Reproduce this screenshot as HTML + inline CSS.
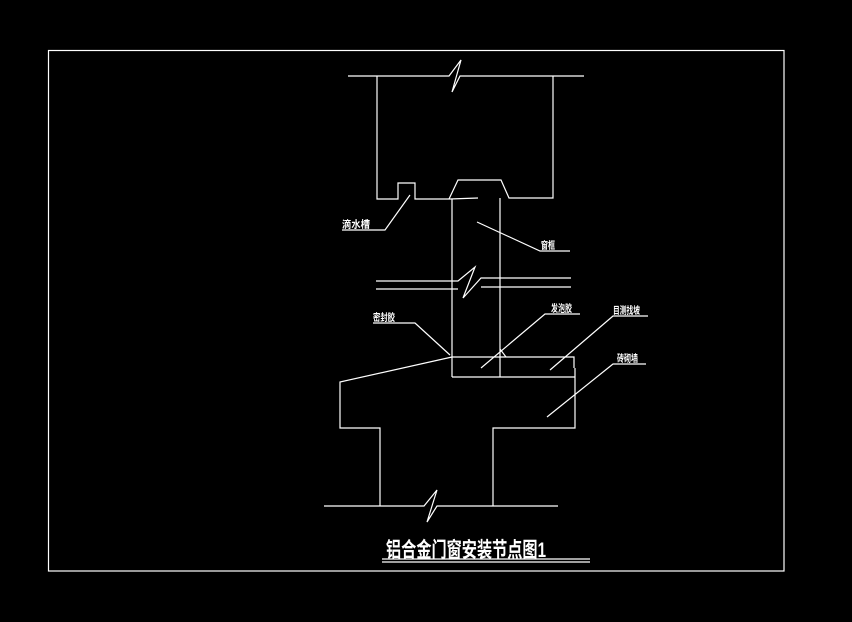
<!DOCTYPE html>
<html><head><meta charset="utf-8"><style>
html,body{margin:0;padding:0;background:#000;}
svg{display:block;}
text{font-family:"Liberation Sans","Noto Sans CJK SC","WenQuanYi Zen Hei",sans-serif;fill:#fff;font-weight:bold;}
</style></head><body>
<svg width="852" height="622" viewBox="0 0 852 622" xmlns="http://www.w3.org/2000/svg">
<rect width="852" height="622" fill="#000"/>
<g stroke="#fff" stroke-width="1.2" fill="none">
<rect x="48.5" y="50.5" width="735.5" height="520.5"/>
<!-- top wall -->
<polyline points="348,76 449,76 461,60 452,92 460,76 584,76"/>
<polyline points="377,76 377,199 398,199 398,183 415,183 415,199 450,199"/>
<polyline points="449,199 458,180 501,180 509,198 553,198 553,76"/>
<line x1="450" y1="199" x2="478" y2="198"/>
<!-- frame -->
<line x1="452" y1="199" x2="452" y2="377"/>
<line x1="500" y1="198" x2="500" y2="377"/>
<line x1="452" y1="377" x2="575" y2="377"/>
<polyline points="452,357 574,357 574,368"/>
<!-- break lines -->
<polyline points="376,281 458,281 475,267 463,298 481,278 571,278"/>
<polyline points="376,289 458,289"/>
<polyline points="481,287 571,287"/>
<!-- wall -->
<polyline points="452,357 340,382 340,428 380,428 380,506"/>
<polyline points="493,506 493,428 575,428 575,368"/>
<polyline points="324,506 424,506 437,490 427,522 437,506 558,506"/>
<!-- leaders -->
<polyline points="342,230 385,230 410,195"/>
<polyline points="477,222 540,251 570,251"/>
<polyline points="373,323 415,323 450,355"/>
<polyline points="580,314 545,314 481,368"/>
<line x1="500" y1="349" x2="506" y2="357"/>
<polyline points="648,316 613,316 550,370"/>
<polyline points="646,364 613,364 547,417"/>
<line x1="382" y1="559" x2="590" y2="559"/>
<line x1="382" y1="562" x2="590" y2="562"/>
</g>
<g font-size="10">
<text x="342" y="228" textLength="28" lengthAdjust="spacingAndGlyphs">滴水槽</text>
<text x="541" y="249" textLength="14" lengthAdjust="spacingAndGlyphs">窗框</text>
<text x="373" y="321" textLength="22" lengthAdjust="spacingAndGlyphs">密封胶</text>
<text x="551" y="312" textLength="21" lengthAdjust="spacingAndGlyphs">发泡胶</text>
<text x="613" y="314" textLength="27" lengthAdjust="spacingAndGlyphs">目测找坡</text>
<text x="617" y="362" textLength="21" lengthAdjust="spacingAndGlyphs">砖砌墙</text>
</g>
<text x="386" y="557" font-size="21" textLength="160" lengthAdjust="spacingAndGlyphs">铝合金门窗安装节点图1</text>
</svg>
</body></html>
